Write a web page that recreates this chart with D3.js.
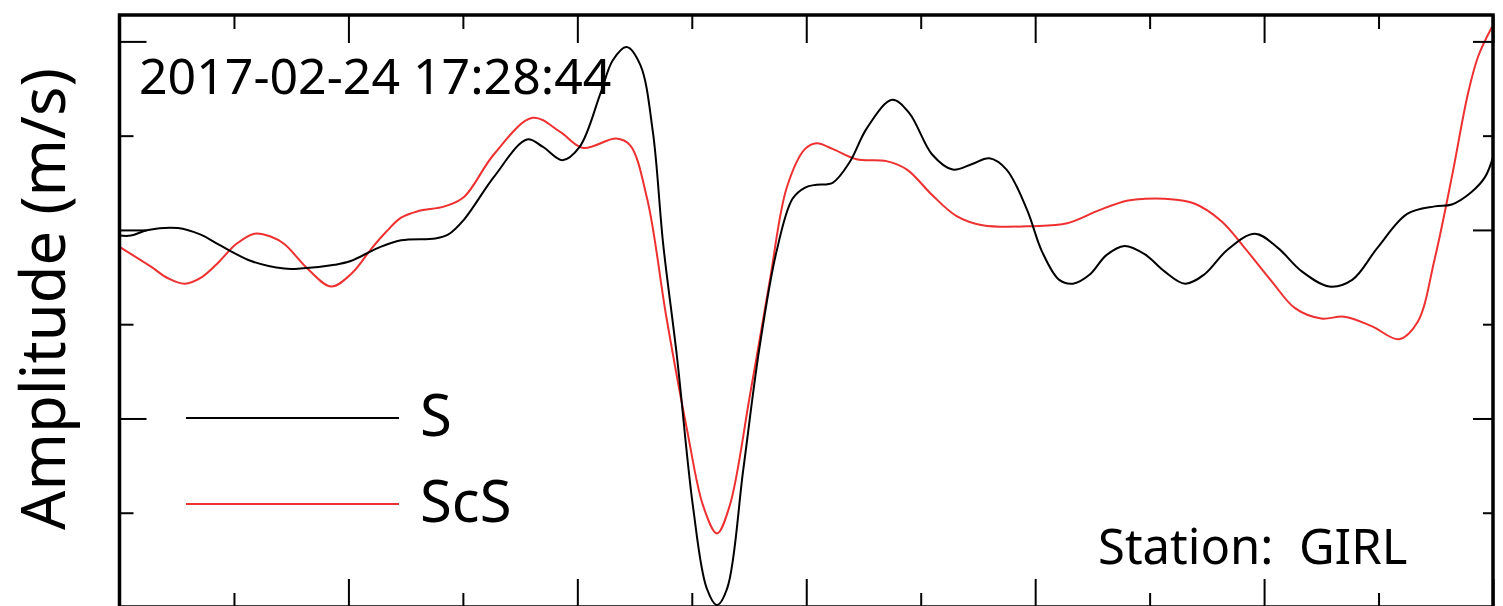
<!DOCTYPE html>
<html>
<head>
<meta charset="utf-8">
<script src="https://cdn.jsdelivr.net/npm/d3@7"></script>
<style>
  html, body { margin: 0; padding: 0; background: #fff; }
  svg { display: block; font-family: "Noto Sans", "Open Sans", sans-serif; }
  .axis .domain { display: none; }
  .axis line { stroke: #000; stroke-width: 2; }
</style>
</head>
<body>
<div id="chart"></div>
<script>
// time in seconds, amplitude in arbitrary units (one y tick = 1)
const sTime = [0, 1, 2.5, 5.1, 7.1, 8.6, 11.5, 14.4, 15.8, 18.8, 20.2, 22.6, 24.6, 27.6, 28.7, 30.1,
  32.7, 35.6, 37, 38.7, 40.2, 42, 43.1, 44.3, 45.5, 46.6, 47.5, 48.7, 50.1, 51.3, 52.2, 53.1,
  54.5, 55.9, 57.4, 58.8, 59.9, 60.9, 62.3, 63.8, 65.3, 67.5, 69, 71, 72.8, 74.5, 76, 77.5,
  79.3, 80.6, 82.1, 83.3, 84.8, 86.2, 87.8, 89.6, 91.3, 93.1, 94.8, 96.8, 99.2, 101.2, 103.3,
  105.7, 107.7, 109.9, 112.5, 114.9, 116.4, 118.1, 119.3, 120];
const sAmp = [-0.06, -0.06, 0, 0.02, -0.05, -0.15, -0.33, -0.41, -0.41, -0.37, -0.33, -0.19, -0.11, -0.09, -0.05, 0.11,
  0.56, 0.96, 0.88, 0.74, 0.88, 1.44, 1.8, 1.94, 1.75, 1.04, -0.15, -1.34, -2.93, -3.8, -3.98, -3.8,
  -2.54, -1.26, -0.23, 0.33, 0.45, 0.48, 0.5, 0.72, 1.08, 1.38, 1.24, 0.8, 0.64, 0.7, 0.76, 0.64,
  0.21, -0.23, -0.53, -0.57, -0.47, -0.27, -0.17, -0.26, -0.44, -0.57, -0.47, -0.21, -0.04, -0.19, -0.44,
  -0.6, -0.53, -0.19, 0.17, 0.25, 0.27, 0.4, 0.56, 0.77];

const scsTime = [0, 2.75, 4.2, 5.7, 7.2, 8.6, 10.2, 11.8, 13.2, 14.4, 16.5, 18.5, 20.3, 22, 23.3, 24.6, 26.1, 28.4, 30.1, 32.7, 36.1, 38.5, 40.5,
  43.4, 44.6, 46.1, 47.8, 49.6, 51, 52.2, 53.3, 55.1, 56.8, 58.3, 59.9, 60.9, 62.3, 64.4, 67,
  68.8, 71, 73.1, 75.4, 79.8, 82.8, 85.6, 88, 89.6, 91.3, 93.9, 96.3, 98.3, 100.7, 102.7, 105,
  107, 109.4, 111.8, 113.4, 114.9, 116.4, 117.8, 118.7, 119.9];
const scsAmp = [-0.18, -0.39, -0.51, -0.57, -0.5, -0.35, -0.15, -0.04, -0.07, -0.15, -0.42, -0.6, -0.46, -0.2, -0.02, 0.13, 0.2, 0.25, 0.35, 0.8, 1.19, 1.04, 0.87,
  0.97, 0.9, 0.33, -0.94, -2.13, -2.93, -3.22, -2.93, -1.74, -0.55, 0.45, 0.86, 0.92, 0.86, 0.75, 0.73,
  0.64, 0.37, 0.15, 0.05, 0.04, 0.07, 0.21, 0.31, 0.33, 0.33, 0.28, 0.09, -0.19, -0.55, -0.83, -0.94,
  -0.92, -1.02, -1.16, -0.98, -0.31, 0.56, 1.44, 1.84, 2.15];

const xTicksMajor = [0, 20, 40, 60, 80, 100, 120];
const xTicksMinor = [10, 30, 50, 70, 90, 110];
const yTicksMajor = [-4, -2, 0, 2];
const yTicksMinor = [-3, -1, 1];

const seriesNames = ["S", "ScS"];
const seriesColors = ["#000000", "#ee3030"];
const yLabel = "Amplitude (m/s)";
const eventTime = "2017-02-24 17:28:44";
const stationLabel = "Station:  GIRL";

class Chart {
  constructor() {
    this.width = 1503;
    this.height = 606;
    this.box = {left: 119.5, right: 1493, top: 15, bottom: 607};

    this.svg = d3.select("#chart")
      .append("svg")
      .attr("width", this.width)
      .attr("height", this.height);

    this.x = d3.scaleLinear().domain([0, 120]).range([this.box.left, this.box.right]);
    this.y = d3.scaleLinear().domain([-4, 2.28]).range([this.box.bottom, this.box.top]);

    this.draw();
  }

  draw() {
    const b = this.box;

    this.svg.append("clipPath")
      .attr("id", "plotclip")
      .append("rect")
      .attr("x", b.left).attr("y", b.top)
      .attr("width", b.right - b.left).attr("height", b.bottom - b.top);

    const line = d3.line()
      .x(d => this.x(d[0]))
      .y(d => this.y(d[1]))
      .curve(d3.curveCatmullRom.alpha(0.5));

    const series = [
      d3.zip(scsTime, scsAmp),
      d3.zip(sTime, sAmp)
    ];
    const colors = [seriesColors[1], seriesColors[0]];

    this.svg.append("g")
      .attr("clip-path", "url(#plotclip)")
      .selectAll("path")
      .data(series).enter()
      .append("path")
      .attr("d", line)
      .style("fill", "none")
      .style("stroke", (d, i) => colors[i])
      .style("stroke-width", 2);

    // ticks pointing inward on all four sides
    const tickSet = (axisFn, scale, values, size, tx, ty) => {
      this.svg.append("g")
        .attr("class", "axis")
        .attr("transform", "translate(" + tx + "," + ty + ")")
        .call(axisFn(scale).tickValues(values).tickSize(size).tickFormat(""));
    };
    tickSet(d3.axisTop, this.x, xTicksMajor, -28, 0, b.top);
    tickSet(d3.axisTop, this.x, xTicksMinor, -14, 0, b.top);
    tickSet(d3.axisBottom, this.x, xTicksMajor, -28, 0, b.bottom);
    tickSet(d3.axisBottom, this.x, xTicksMinor, -14, 0, b.bottom);
    tickSet(d3.axisLeft, this.y, yTicksMajor, -27, b.left, 0);
    tickSet(d3.axisLeft, this.y, yTicksMinor, -14, b.left, 0);
    tickSet(d3.axisRight, this.y, yTicksMajor, -20, b.right, 0);
    tickSet(d3.axisRight, this.y, yTicksMinor, -10, b.right, 0);

    this.svg.append("rect")
      .attr("x", b.left).attr("y", b.top)
      .attr("width", b.right - b.left).attr("height", b.bottom - b.top)
      .style("fill", "none")
      .style("stroke", "#000")
      .style("stroke-width", 3.5);

    // legend
    const legend = this.svg.append("g");
    const legY = [418, 504];
    legend.selectAll("line")
      .data(seriesNames).enter()
      .append("line")
      .attr("x1", 186).attr("x2", 399)
      .attr("y1", (d, i) => legY[i]).attr("y2", (d, i) => legY[i])
      .style("stroke", (d, i) => seriesColors[i])
      .style("stroke-width", 2);
    legend.selectAll("text")
      .data(seriesNames).enter()
      .append("text")
      .attr("x", 420)
      .attr("y", (d, i) => legY[i] + 18)
      .style("font-size", "58px")
      .text(d => d);

    this.svg.append("text")
      .attr("x", 139).attr("y", 94)
      .style("font-size", "50px")
      .text(eventTime);

    this.svg.append("text")
      .attr("x", 1098).attr("y", 564)
      .style("font-size", "49px")
      .style("white-space", "pre")
      .text(stationLabel);

    this.svg.append("text")
      .attr("transform", "translate(65,299)rotate(-90)")
      .attr("text-anchor", "middle")
      .style("font-size", "61.5px")
      .text(yLabel);
  }
}

new Chart();
</script>
</body>
</html>
